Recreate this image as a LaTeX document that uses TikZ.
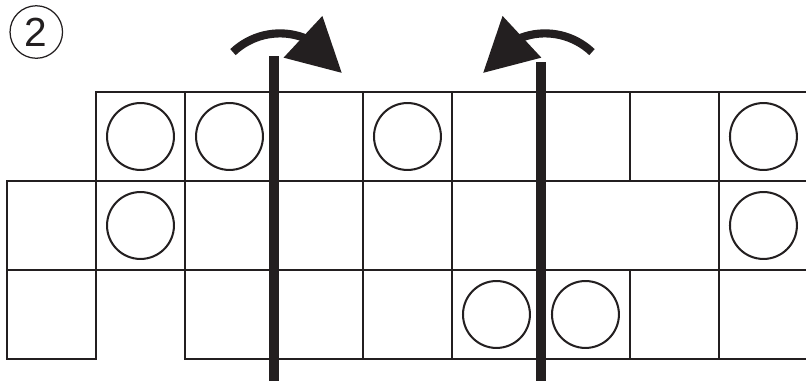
\documentclass[tikz,border=0pt]{standalone}
\usepackage{fontspec}
\setmainfont{Liberation Sans}
\usetikzlibrary{arrows.meta,bending}
\definecolor{ink}{RGB}{35,31,32}

\begin{document}
\begin{tikzpicture}[>=Stealth,
  cell/.style={draw=ink,line width=0.5pt},
  disc/.style={draw=ink,line width=0.65pt},
  foldline/.style={draw=ink,line width=3pt},
  foldarrow/.style={draw=ink,line width=2.6pt,-{Triangle[length=17pt,width=17.5pt]}}]
\clip (-0.0787,-3.2472) rectangle (8.978,1.0337);
% puzzle number
\node[circle,draw=ink,line width=0.4pt,minimum size=0.59cm,inner sep=0pt,
  font=\fontsize{13}{13}\selectfont,text=ink] (num) at (0.329,0.674) {2};
% top row
\foreach \c in {1,2,3,4,5,6,7,8} \draw[cell] (\c,0) rectangle ++(1,-1);
% middle row
\foreach \c in {0,1,2,3,4,5,8} \draw[cell] (\c,-1) rectangle ++(1,-1);
\draw[cell] (6,-1) rectangle ++(2,-1);
% bottom row
\foreach \c in {0,2,3,4,5,6,7,8} \draw[cell] (\c,-2) rectangle ++(1,-1);
% discs
\foreach \c/\r in {1/0,2/0,4/0,8/0,1/1,8/1,5/2,6/2}
  \draw[disc] (\c+0.5,-\r-0.5) circle[radius=0.376];
% fold lines
\draw[foldline] (3,0.404) -- (3,-3.3);
\draw[foldline] (6,0.337) -- (6,-3.3);
% fold arrows
\draw[foldarrow] (2.539,0.448) arc[start angle=133.5,end angle=24.8,radius=0.767];
\draw[foldarrow] (6.573,0.448) arc[start angle=46.5,end angle=155.2,radius=0.767];
\end{tikzpicture}
\end{document}
